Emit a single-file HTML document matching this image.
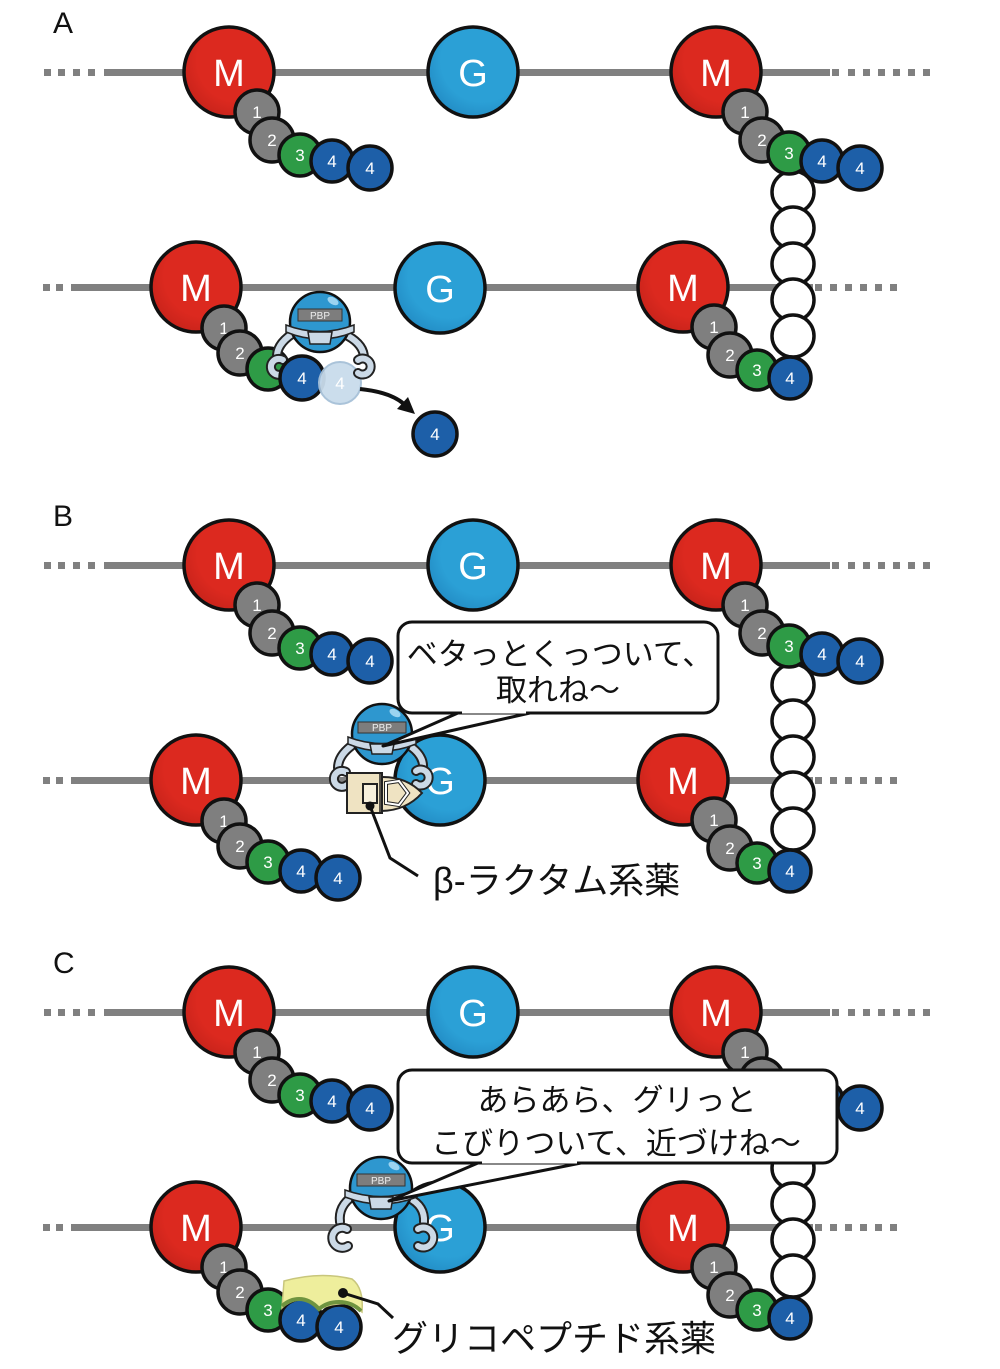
<!DOCTYPE html>
<html><head><meta charset="utf-8">
<style>
html,body{margin:0;padding:0;background:#fff;}
svg{display:block;}
.m{fill:url(#gm);stroke:#111;stroke-width:3.5}
.g{fill:url(#gg);stroke:#111;stroke-width:3.5}
.k{fill:#7f7f7f;stroke:#111;stroke-width:3.5}
.gr{fill:#2e9b46;stroke:#111;stroke-width:3.5}
.bl{fill:#1d5fa8;stroke:#111;stroke-width:3.5}
.w{fill:#fff;stroke:#111;stroke-width:3.5}
.big{font-family:"Liberation Sans",sans-serif;font-size:38px;fill:#fff;text-anchor:middle}
.n{font-family:"Liberation Sans",sans-serif;font-size:17px;fill:#fff;text-anchor:middle}
.lab{font-family:"Liberation Sans",sans-serif;font-size:30px;fill:#111}
.jp{font-family:"Liberation Sans","Noto Sans CJK JP",sans-serif;fill:#111}
.pbp{font-family:"Liberation Sans",sans-serif;font-size:10px;fill:#eee;text-anchor:middle}
.armo{fill:none;stroke:#222;stroke-width:10;stroke-linecap:round}
.armi{fill:none;stroke:#cbd9e6;stroke-width:6;stroke-linecap:round}
</style></head>
<body>
<svg width="1000" height="1369" viewBox="0 0 1000 1369" xmlns="http://www.w3.org/2000/svg">
<defs>
<radialGradient id="gm" cx="0.6" cy="0.38" r="0.7">
<stop offset="0.65" stop-color="#dc291f"/><stop offset="1" stop-color="#c4221a"/></radialGradient>
<radialGradient id="gg" cx="0.6" cy="0.38" r="0.7">
<stop offset="0.65" stop-color="#2ba0d6"/><stop offset="1" stop-color="#2189c2"/></radialGradient>
</defs>
<rect width="1000" height="1369" fill="#fff"/>

<!-- ================= PANEL A ================= -->
<text x="53" y="33" class="lab">A</text>
<g>
<g fill="#808080">
<rect x="44" y="69" width="7" height="7"/><rect x="58" y="69" width="7" height="7"/><rect x="73" y="69" width="7" height="7"/><rect x="88" y="69" width="7" height="7"/>
<rect x="104" y="69" width="726" height="7"/>
<rect x="832" y="69" width="7" height="7"/><rect x="848" y="69" width="7" height="7"/><rect x="863" y="69" width="7" height="7"/><rect x="878" y="69" width="7" height="7"/><rect x="893" y="69" width="7" height="7"/><rect x="908" y="69" width="7" height="7"/><rect x="923" y="69" width="7" height="7"/>
<rect x="43" y="284" width="7" height="7"/><rect x="56" y="284" width="7" height="7"/>
<rect x="71" y="284" width="742" height="7"/>
<rect x="815" y="284" width="7" height="7"/><rect x="830" y="284" width="7" height="7"/><rect x="845" y="284" width="7" height="7"/><rect x="860" y="284" width="7" height="7"/><rect x="875" y="284" width="7" height="7"/><rect x="890" y="284" width="7" height="7"/>
</g>
<circle cx="229" cy="72" r="45" class="m"/><text x="229" y="86" class="big">M</text>
<circle cx="473" cy="72" r="45" class="g"/><text x="473" y="86" class="big">G</text>
<circle cx="716" cy="72" r="45" class="m"/><text x="716" y="86" class="big">M</text>
<circle cx="196" cy="287" r="45" class="m"/><text x="196" y="301" class="big">M</text>
<circle cx="440" cy="288" r="45" class="g"/><text x="440" y="302" class="big">G</text>
<circle cx="683" cy="287" r="45" class="m"/><text x="683" y="301" class="big">M</text>
<circle cx="257" cy="112" r="22" class="k"/><text x="257" y="118" class="n">1</text>
<circle cx="272" cy="140" r="22" class="k"/><text x="272" y="146" class="n">2</text>
<circle cx="300" cy="155" r="21" class="gr"/><text x="300" y="161" class="n">3</text>
<circle cx="332" cy="161" r="21" class="bl"/><text x="332" y="167" class="n">4</text>
<circle cx="370" cy="168" r="22" class="bl"/><text x="370" y="174" class="n">4</text>
<circle cx="793" cy="192" r="21" class="w"/><circle cx="793" cy="228" r="21" class="w"/><circle cx="793" cy="264" r="21" class="w"/><circle cx="793" cy="300" r="21" class="w"/><circle cx="793" cy="336" r="21" class="w"/>
<circle cx="745" cy="112" r="22" class="k"/><text x="745" y="118" class="n">1</text>
<circle cx="762" cy="140" r="22" class="k"/><text x="762" y="146" class="n">2</text>
<circle cx="789" cy="153" r="21" class="gr"/><text x="789" y="159" class="n">3</text>
<circle cx="822" cy="161" r="21" class="bl"/><text x="822" y="167" class="n">4</text>
<circle cx="860" cy="168" r="22" class="bl"/><text x="860" y="174" class="n">4</text>
<circle cx="714" cy="327" r="22" class="k"/><text x="714" y="333" class="n">1</text>
<circle cx="730" cy="355" r="22" class="k"/><text x="730" y="361" class="n">2</text>
<circle cx="757" cy="370" r="20" class="gr"/><text x="757" y="376" class="n">3</text>
<circle cx="790" cy="378" r="21" class="bl"/><text x="790" y="384" class="n">4</text>
</g>
<circle cx="224" cy="328" r="22" class="k"/><text x="224" y="334" class="n">1</text>
<circle cx="240" cy="353" r="22" class="k"/><text x="240" y="359" class="n">2</text>
<circle cx="268" cy="369" r="21" class="gr"/>
<path d="M292 334 Q276 345 277 358" class="armo"/><path d="M292 334 Q276 345 277 358" class="armi"/>
<path d="M348 336 Q364 345 364 358" class="armo"/><path d="M348 336 Q364 345 364 358" class="armi"/>
<path d="M283 360 A8 8 0 1 0 284 373" class="armo"/><path d="M283 360 A8 8 0 1 0 284 373" class="armi"/>
<circle cx="302" cy="378" r="22" class="bl"/><text x="302" y="384" class="n">4</text>
<circle cx="340" cy="383" r="21" fill="#c9dcec" stroke="#a6c0d8" stroke-width="2" opacity="0.95"/><text x="340" y="389" class="n" fill="#f4f8fc">4</text>
<path d="M358 360 A8 8 0 1 1 358 373" class="armo"/><path d="M358 360 A8 8 0 1 1 358 373" class="armi"/>
<g transform="translate(320,322)">
<circle r="30" fill="#2e97cf" stroke="#111" stroke-width="2.5"/>
<ellipse cx="13" cy="-21" rx="6" ry="3.5" fill="#9bd3f0" transform="rotate(30 13 -21)"/>
<rect x="-22" y="-13" width="44" height="12" fill="#7d7d7d" stroke="#333" stroke-width="1"/>
<text x="0" y="-3" class="pbp">PBP</text>
<path d="M-34 3 Q0 16 34 3 L34 10 Q0 24 -34 10 Z" fill="#cbd9e6" stroke="#222" stroke-width="1.5"/>
<path d="M-12 10 L12 10 L10 22 L-10 22 Z" fill="#cbd9e6" stroke="#222" stroke-width="1.5"/>
</g>
<path d="M360 389 Q390 392 404 404" fill="none" stroke="#111" stroke-width="4"/>
<polygon points="415,414 408,397 397,409" fill="#111"/>
<circle cx="435" cy="434" r="22" class="bl"/><text x="435" y="440" class="n">4</text>

<!-- ================= PANEL B ================= -->
<text x="53" y="526" class="lab">B</text>
<g transform="translate(0,493)">
<g fill="#808080">
<rect x="44" y="69" width="7" height="7"/><rect x="58" y="69" width="7" height="7"/><rect x="73" y="69" width="7" height="7"/><rect x="88" y="69" width="7" height="7"/>
<rect x="104" y="69" width="726" height="7"/>
<rect x="832" y="69" width="7" height="7"/><rect x="848" y="69" width="7" height="7"/><rect x="863" y="69" width="7" height="7"/><rect x="878" y="69" width="7" height="7"/><rect x="893" y="69" width="7" height="7"/><rect x="908" y="69" width="7" height="7"/><rect x="923" y="69" width="7" height="7"/>
<rect x="43" y="284" width="7" height="7"/><rect x="56" y="284" width="7" height="7"/>
<rect x="71" y="284" width="742" height="7"/>
<rect x="815" y="284" width="7" height="7"/><rect x="830" y="284" width="7" height="7"/><rect x="845" y="284" width="7" height="7"/><rect x="860" y="284" width="7" height="7"/><rect x="875" y="284" width="7" height="7"/><rect x="890" y="284" width="7" height="7"/>
</g>
<circle cx="229" cy="72" r="45" class="m"/><text x="229" y="86" class="big">M</text>
<circle cx="473" cy="72" r="45" class="g"/><text x="473" y="86" class="big">G</text>
<circle cx="716" cy="72" r="45" class="m"/><text x="716" y="86" class="big">M</text>
<circle cx="196" cy="287" r="45" class="m"/><text x="196" y="301" class="big">M</text>
<circle cx="440" cy="287" r="45" class="g"/><text x="440" y="301" class="big">G</text>
<circle cx="683" cy="287" r="45" class="m"/><text x="683" y="301" class="big">M</text>
<circle cx="257" cy="112" r="22" class="k"/><text x="257" y="118" class="n">1</text>
<circle cx="272" cy="140" r="22" class="k"/><text x="272" y="146" class="n">2</text>
<circle cx="300" cy="155" r="21" class="gr"/><text x="300" y="161" class="n">3</text>
<circle cx="332" cy="161" r="21" class="bl"/><text x="332" y="167" class="n">4</text>
<circle cx="370" cy="168" r="22" class="bl"/><text x="370" y="174" class="n">4</text>
<circle cx="793" cy="192" r="21" class="w"/><circle cx="793" cy="228" r="21" class="w"/><circle cx="793" cy="264" r="21" class="w"/><circle cx="793" cy="300" r="21" class="w"/><circle cx="793" cy="336" r="21" class="w"/>
<circle cx="745" cy="112" r="22" class="k"/><text x="745" y="118" class="n">1</text>
<circle cx="762" cy="140" r="22" class="k"/><text x="762" y="146" class="n">2</text>
<circle cx="789" cy="153" r="21" class="gr"/><text x="789" y="159" class="n">3</text>
<circle cx="822" cy="161" r="21" class="bl"/><text x="822" y="167" class="n">4</text>
<circle cx="860" cy="168" r="22" class="bl"/><text x="860" y="174" class="n">4</text>
<circle cx="714" cy="327" r="22" class="k"/><text x="714" y="333" class="n">1</text>
<circle cx="730" cy="355" r="22" class="k"/><text x="730" y="361" class="n">2</text>
<circle cx="757" cy="370" r="20" class="gr"/><text x="757" y="376" class="n">3</text>
<circle cx="790" cy="378" r="21" class="bl"/><text x="790" y="384" class="n">4</text>
<circle cx="224" cy="328" r="22" class="k"/><text x="224" y="334" class="n">1</text>
<circle cx="240" cy="353" r="22" class="k"/><text x="240" y="359" class="n">2</text>
<circle cx="268" cy="369" r="21" class="gr"/><text x="268" y="375" class="n">3</text>
<circle cx="301" cy="378" r="21" class="bl"/><text x="301" y="384" class="n">4</text>
<circle cx="338" cy="385" r="22" class="bl"/><text x="338" y="391" class="n">4</text>
</g>
<path d="M354 744 Q338 755 338 768" class="armo"/><path d="M354 744 Q338 755 338 768" class="armi"/>
<path d="M410 746 Q424 756 423 768" class="armo"/><path d="M410 746 Q424 756 423 768" class="armi"/>
<path d="M346 772 A8 8 0 1 0 347 785" class="armo"/><path d="M346 772 A8 8 0 1 0 347 785" class="armi"/>
<path d="M416 771 A8 8 0 1 1 416 784" class="armo"/><path d="M416 771 A8 8 0 1 1 416 784" class="armi"/>
<g transform="translate(382,734)">
<circle r="30" fill="#2e97cf" stroke="#111" stroke-width="2.5"/>
<ellipse cx="13" cy="-21" rx="6" ry="3.5" fill="#9bd3f0" transform="rotate(30 13 -21)"/>
<rect x="-24" y="-12" width="48" height="11" fill="#7d7d7d" stroke="#333" stroke-width="1"/>
<text x="0" y="-3" class="pbp">PBP</text>
<path d="M-34 3 Q0 16 34 3 L34 10 Q0 24 -34 10 Z" fill="#cbd9e6" stroke="#222" stroke-width="1.5"/>
<path d="M-12 10 L12 10 L10 20 L-10 20 Z" fill="#cbd9e6" stroke="#222" stroke-width="1.5"/>
</g>
<path d="M380 777 Q406 776 422 793 Q406 811 380 811 Z" fill="#efe3c2" stroke="#222" stroke-width="2"/>
<rect x="347" y="773" width="35" height="40" fill="#efe3c2" stroke="#222" stroke-width="2"/>
<line x1="380" y1="774" x2="380" y2="812" stroke="#222" stroke-width="1.5"/>
<rect x="363" y="784" width="14" height="19" fill="#f7f0dc" stroke="#222" stroke-width="2"/>
<polygon points="386,783 399,781 408,793 399,805 386,803" fill="none" stroke="#222" stroke-width="4"/>
<polygon points="386,783 399,781 408,793 399,805 386,803" fill="none" stroke="#fff" stroke-width="2"/>
<circle cx="370" cy="806" r="4.5" fill="#111"/>
<path d="M370 806 L390 858 L418 876" fill="none" stroke="#111" stroke-width="3"/>
<text x="433" y="893" class="jp" font-size="36">β-ラクタム系薬</text>
<rect x="398" y="622" width="320" height="91" rx="14" fill="#fff" stroke="#111" stroke-width="3"/>
<polygon points="458,713 383,746 530,713" fill="#fff" stroke="#111" stroke-width="3" stroke-linejoin="round"/>
<line x1="462" y1="711.5" x2="526" y2="711.5" stroke="#fff" stroke-width="4"/>
<text x="560" y="665" class="jp" font-size="31" text-anchor="middle">ベタっとくっついて、</text>
<text x="558" y="701" class="jp" font-size="31" text-anchor="middle">取れね～</text>

<!-- ================= PANEL C ================= -->
<text x="53" y="973" class="lab">C</text>
<g transform="translate(0,940)">
<g fill="#808080">
<rect x="44" y="69" width="7" height="7"/><rect x="58" y="69" width="7" height="7"/><rect x="73" y="69" width="7" height="7"/><rect x="88" y="69" width="7" height="7"/>
<rect x="104" y="69" width="726" height="7"/>
<rect x="832" y="69" width="7" height="7"/><rect x="848" y="69" width="7" height="7"/><rect x="863" y="69" width="7" height="7"/><rect x="878" y="69" width="7" height="7"/><rect x="893" y="69" width="7" height="7"/><rect x="908" y="69" width="7" height="7"/><rect x="923" y="69" width="7" height="7"/>
<rect x="43" y="284" width="7" height="7"/><rect x="56" y="284" width="7" height="7"/>
<rect x="71" y="284" width="742" height="7"/>
<rect x="815" y="284" width="7" height="7"/><rect x="830" y="284" width="7" height="7"/><rect x="845" y="284" width="7" height="7"/><rect x="860" y="284" width="7" height="7"/><rect x="875" y="284" width="7" height="7"/><rect x="890" y="284" width="7" height="7"/>
</g>
<circle cx="229" cy="72" r="45" class="m"/><text x="229" y="86" class="big">M</text>
<circle cx="473" cy="72" r="45" class="g"/><text x="473" y="86" class="big">G</text>
<circle cx="716" cy="72" r="45" class="m"/><text x="716" y="86" class="big">M</text>
<circle cx="196" cy="287" r="45" class="m"/><text x="196" y="301" class="big">M</text>
<circle cx="440" cy="287" r="45" class="g"/><text x="440" y="301" class="big">G</text>
<circle cx="683" cy="287" r="45" class="m"/><text x="683" y="301" class="big">M</text>
<circle cx="257" cy="112" r="22" class="k"/><text x="257" y="118" class="n">1</text>
<circle cx="272" cy="140" r="22" class="k"/><text x="272" y="146" class="n">2</text>
<circle cx="300" cy="155" r="21" class="gr"/><text x="300" y="161" class="n">3</text>
<circle cx="332" cy="161" r="21" class="bl"/><text x="332" y="167" class="n">4</text>
<circle cx="370" cy="168" r="22" class="bl"/><text x="370" y="174" class="n">4</text>
<circle cx="793" cy="192" r="21" class="w"/><circle cx="793" cy="228" r="21" class="w"/><circle cx="793" cy="264" r="21" class="w"/><circle cx="793" cy="300" r="21" class="w"/><circle cx="793" cy="336" r="21" class="w"/>
<circle cx="745" cy="112" r="22" class="k"/><text x="745" y="118" class="n">1</text>
<circle cx="762" cy="140" r="22" class="k"/><text x="762" y="146" class="n">2</text>
<circle cx="789" cy="153" r="21" class="gr"/><text x="789" y="159" class="n">3</text>
<circle cx="822" cy="161" r="21" class="bl"/><text x="822" y="167" class="n">4</text>
<circle cx="860" cy="168" r="22" class="bl"/><text x="860" y="174" class="n">4</text>
<circle cx="714" cy="327" r="22" class="k"/><text x="714" y="333" class="n">1</text>
<circle cx="730" cy="355" r="22" class="k"/><text x="730" y="361" class="n">2</text>
<circle cx="757" cy="370" r="20" class="gr"/><text x="757" y="376" class="n">3</text>
<circle cx="790" cy="378" r="21" class="bl"/><text x="790" y="384" class="n">4</text>
<circle cx="224" cy="327" r="22" class="k"/><text x="224" y="333" class="n">1</text>
<circle cx="240" cy="352" r="22" class="k"/><text x="240" y="358" class="n">2</text>
<circle cx="268" cy="370" r="21" class="gr"/><text x="268" y="376" class="n">3</text>
<circle cx="301" cy="380" r="21" class="bl"/><text x="301" y="386" class="n">4</text>
<circle cx="339" cy="387" r="22" class="bl"/><text x="339" y="393" class="n">4</text>
</g>
<path d="M284 1281 Q320 1271 352 1279 Q364 1288 362 1312 Q350 1302 338 1304 Q326 1305 319 1310 Q309 1298 297 1300 Q288 1302 282 1308 Z" fill="#eeee9c" stroke="#c8c67c" stroke-width="1.5"/>
<path d="M282 1306 Q290 1299 299 1299 Q310 1299 319 1309 Q327 1302 339 1302 Q352 1302 361 1311" fill="none" stroke="#6f9440" stroke-width="4"/>
<circle cx="343" cy="1293" r="5" fill="#111"/>
<path d="M343 1293 L378 1304 L393 1318" fill="none" stroke="#111" stroke-width="3"/>
<text x="392" y="1351" class="jp" font-size="36">グリコペプチド系薬</text>
<path d="M353 1196 Q338 1206 340 1222" class="armo"/><path d="M353 1196 Q338 1206 340 1222" class="armi"/>
<path d="M409 1198 Q425 1206 424 1222" class="armo"/><path d="M409 1198 Q425 1206 424 1222" class="armi"/>
<path d="M347 1229 A10 10 0 1 0 348 1246" class="armo"/><path d="M347 1229 A10 10 0 1 0 348 1246" class="armi"/>
<path d="M418 1229 A10 10 0 1 1 418 1246" class="armo"/><path d="M418 1229 A10 10 0 1 1 418 1246" class="armi"/>
<g transform="translate(381,1188)">
<circle r="31" fill="#2e97cf" stroke="#111" stroke-width="2.5"/>
<ellipse cx="13" cy="-22" rx="6" ry="3.5" fill="#9bd3f0" transform="rotate(30 13 -22)"/>
<rect x="-24" y="-14" width="48" height="12" fill="#7d7d7d" stroke="#333" stroke-width="1"/>
<text x="0" y="-4" class="pbp">PBP</text>
<path d="M-36 2 Q0 15 36 2 L36 9 Q0 23 -36 9 Z" fill="#cbd9e6" stroke="#222" stroke-width="1.5"/>
<path d="M-12 9 L12 9 L10 21 L-10 21 Z" fill="#cbd9e6" stroke="#222" stroke-width="1.5"/>
</g>
<rect x="398" y="1070" width="439" height="93" rx="14" fill="#fff" stroke="#111" stroke-width="3"/>
<polygon points="478,1163 389,1201 581,1163" fill="#fff" stroke="#111" stroke-width="3" stroke-linejoin="round"/>
<line x1="482" y1="1161.5" x2="577" y2="1161.5" stroke="#fff" stroke-width="4"/>
<text x="617" y="1111" class="jp" font-size="31" text-anchor="middle">あらあら、グリっと</text>
<text x="616" y="1154" class="jp" font-size="31" text-anchor="middle">こびりついて、近づけね～</text>
</svg>
</body></html>
